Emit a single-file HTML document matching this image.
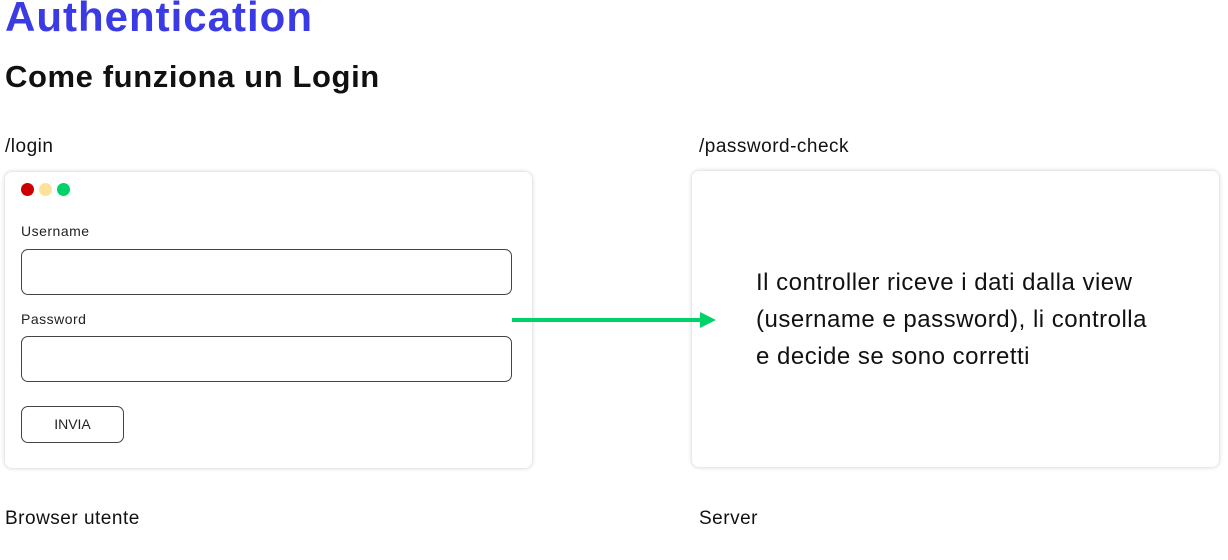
<!DOCTYPE html>
<html><head><style>
body{margin:0;width:1228px;height:560px;background:#fff;position:relative;overflow:hidden;font-family:"Liberation Sans",sans-serif;color:#111}
.a{position:absolute;white-space:nowrap}
.card{position:absolute;background:#fff;border-radius:7px;box-shadow:0 0 4px rgba(0,0,0,0.22)}
.inp{position:absolute;border:1.5px solid #444;border-radius:7px;box-sizing:border-box}
.dot{position:absolute;width:13px;height:13px;border-radius:50%;top:183px}
.lb{font-size:19px;letter-spacing:0.5px}
</style></head><body>
<div class="a" style="left:5px;top:-7px;font-size:42px;font-weight:bold;color:#3b3be6;letter-spacing:1px">Authentication</div>
<div class="a" style="left:5px;top:59px;font-size:31px;font-weight:bold;letter-spacing:0.6px;color:#111">Come funziona un Login</div>
<div class="a lb" style="left:5px;top:136px">/login</div>
<div class="a lb" style="left:699px;top:136px">/password-check</div>
<div class="card" style="left:5px;top:172px;width:527px;height:296px"></div>
<div class="card" style="left:692px;top:171px;width:527px;height:296px"></div>
<div class="dot" style="left:21px;background:#cc0000"></div>
<div class="dot" style="left:39px;background:#fde29a"></div>
<div class="dot" style="left:57px;background:#00d26a"></div>
<div class="a" style="left:21px;top:223px;font-size:14px;color:#222;letter-spacing:0.5px">Username</div>
<div class="inp" style="left:21px;top:249px;width:491px;height:46px"></div>
<div class="a" style="left:21px;top:311px;font-size:14px;color:#222;letter-spacing:0.5px">Password</div>
<div class="inp" style="left:21px;top:336px;width:491px;height:46px"></div>
<div class="inp" style="left:21px;top:406px;width:103px;height:37px;font-size:14px;text-align:center;line-height:34px;color:#222">INVIA</div>
<svg class="a" style="left:510px;top:308px" width="210" height="24"><line x1="2" y1="12" x2="192" y2="12" stroke="#00d26a" stroke-width="4"/><polygon points="190,4 206,12 190,20" fill="#00d26a"/></svg>
<div class="a" style="left:756px;top:264px;font-size:24px;line-height:37px;color:#111;letter-spacing:0.5px">Il controller riceve i dati dalla view<br>(username e password), li controlla<br>e decide se sono corretti</div>
<div class="a lb" style="left:5px;top:508px">Browser utente</div>
<div class="a lb" style="left:699px;top:508px">Server</div>
</body></html>
